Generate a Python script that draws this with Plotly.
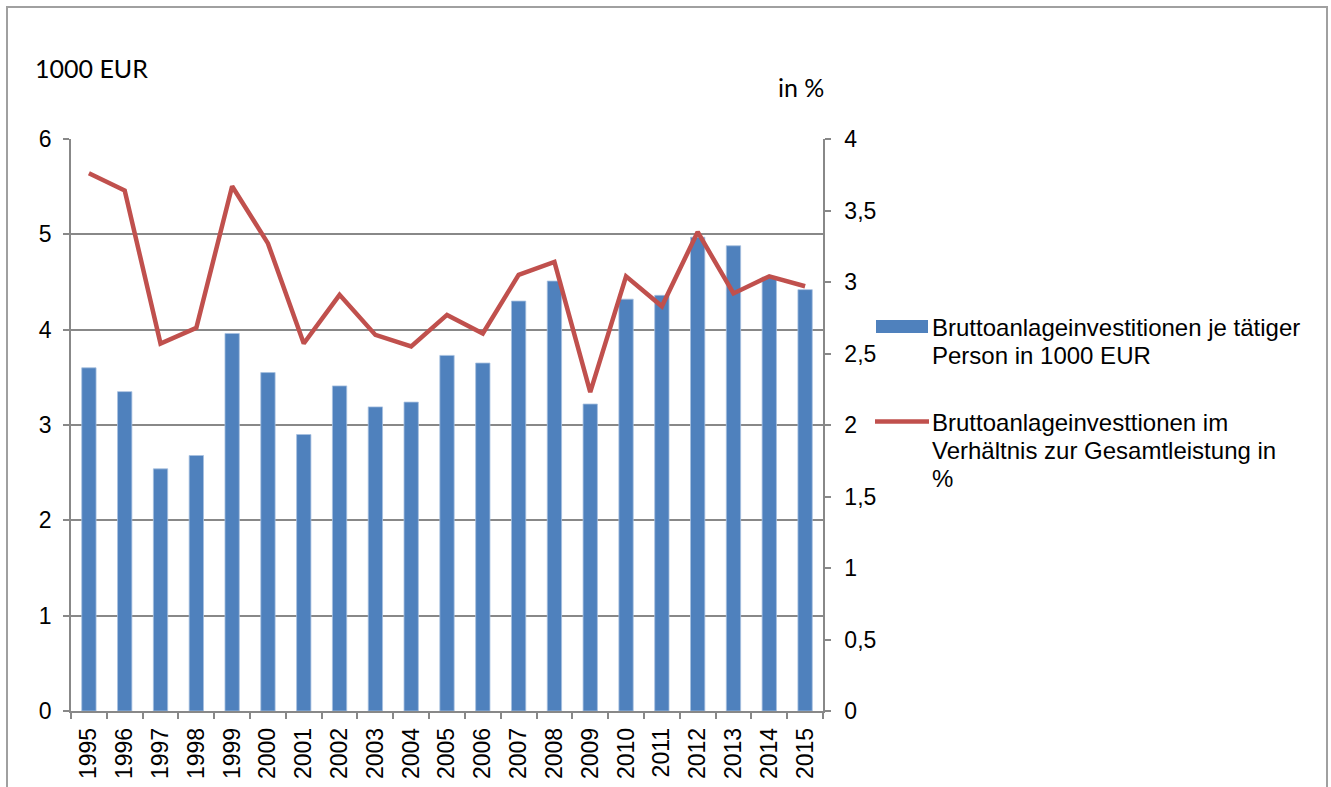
import plotly.graph_objects as go

years = [str(y) for y in range(1995, 2016)]
invest_per_person = [3.60, 3.35, 2.54, 2.68, 3.96, 3.55, 2.90, 3.41, 3.19, 3.24, 3.73,
                     3.65, 4.30, 4.51, 3.22, 4.32, 4.36, 4.97, 4.88, 4.55, 4.42]
invest_ratio = [3.76, 3.64, 2.57, 2.68, 3.67, 3.27, 2.57, 2.91, 2.63, 2.55, 2.77,
                2.64, 3.05, 3.14, 2.23, 3.04, 2.83, 3.35, 2.92, 3.04, 2.97]
legend_bar = ["Bruttoanlageinvestitionen je tätiger", "Person in 1000 EUR"]
legend_line = ["Bruttoanlageinvesttionen im", "Verhältnis zur Gesamtleistung in", "%"]

W, H = 1331, 787
L, R, T, B = 71, 823, 139, 711  # pixel positions of the plot area
BLUE = "#4F81BD"
RED = "#C0504D"
GRAY = "#888888"
FONT = "Liberation Sans, Arial, sans-serif"


def px(x):
    return (x - L) / (R - L)


def py(y):
    return (B - y) / (B - T)


fig = go.Figure()
fig.add_trace(go.Bar(x=years, y=invest_per_person, marker=dict(color=BLUE, line=dict(color="#A7C0E0", width=0.8)),
                     yaxis="y", showlegend=False))
fig.add_trace(go.Scatter(x=years, y=invest_ratio, mode="lines", line=dict(color=RED, width=4.5),
                         yaxis="y2", showlegend=False))

shapes = [
    dict(type="rect", xref="paper", yref="paper", x0=px(7), x1=px(1327), y0=py(800), y1=py(7),
         line=dict(color="#A0A0A0", width=2), fillcolor="rgba(0,0,0,0)", layer="below"),
    dict(type="rect", xref="paper", yref="paper", x0=px(876), x1=px(928), y0=py(333), y1=py(320),
         line=dict(width=0), fillcolor=BLUE),
    dict(type="line", xref="paper", yref="paper", x0=px(875), x1=px(929), y0=py(421.5), y1=py(421.5),
         line=dict(color=RED, width=4.5)),
]

annotations = []
for i, t in enumerate(legend_bar):
    annotations.append(dict(text=t, xref="paper", yref="paper", x=px(930), y=py(327 + 28 * i),
                            xanchor="left", yanchor="middle", showarrow=False,
                            font=dict(family=FONT, size=24, color="#000")))
for i, t in enumerate(legend_line):
    annotations.append(dict(text=t, xref="paper", yref="paper", x=px(930), y=py(422 + 28 * i),
                            xanchor="left", yanchor="middle", showarrow=False,
                            font=dict(family=FONT, size=24, color="#000")))
annotations += [
    dict(text="1000 EUR", xref="paper", yref="paper", x=px(33), y=py(68), xanchor="left", yanchor="middle",
         showarrow=False, font=dict(family="Lato, Open Sans, sans-serif", size=25, color="#000")),
    dict(text="in %", xref="paper", yref="paper", x=px(776), y=py(87), xanchor="left", yanchor="middle",
         showarrow=False, font=dict(family="Lato, Open Sans, sans-serif", size=25, color="#000")),
]

fig.update_layout(
    width=W, height=H,
    margin=dict(l=L, r=W - R, t=T, b=H - B, pad=0, autoexpand=False),
    paper_bgcolor="white", plot_bgcolor="white",
    separators=",.",
    bargap=0.6,
    font=dict(family=FONT, size=23, color="#000"),
    xaxis=dict(type="category", tickangle=-90, tickson="boundaries", ticks="outside", ticklen=6,
               tickcolor=GRAY, tickwidth=1.5, showline=True, linecolor=GRAY, linewidth=1.5,
               showgrid=False, tickfont=dict(size=23), ticklabelstandoff=6, automargin=False),
    yaxis=dict(range=[0, 6], dtick=1, ticks="outside", ticklen=6, tickcolor=GRAY, tickwidth=1.5,
               showline=True, linecolor=GRAY, linewidth=1.5, showgrid=True, gridcolor=GRAY, gridwidth=1.5,
               zeroline=False, tickfont=dict(size=23), ticklabelstandoff=7, automargin=False),
    yaxis2=dict(range=[0, 4], dtick=0.5, overlaying="y", side="right", ticks="outside", ticklen=6,
                tickcolor=GRAY, tickwidth=1.5, showline=True, linecolor=GRAY, linewidth=1.5,
                showgrid=False, zeroline=False, tickfont=dict(size=23), ticklabelstandoff=9,
                automargin=False),
    shapes=shapes,
    annotations=annotations,
    showlegend=False,
)

fig.write_html("out.html", config={"displayModeBar": False},
               post_script="document.body.style.margin='0px';document.body.style.overflow='hidden';")
